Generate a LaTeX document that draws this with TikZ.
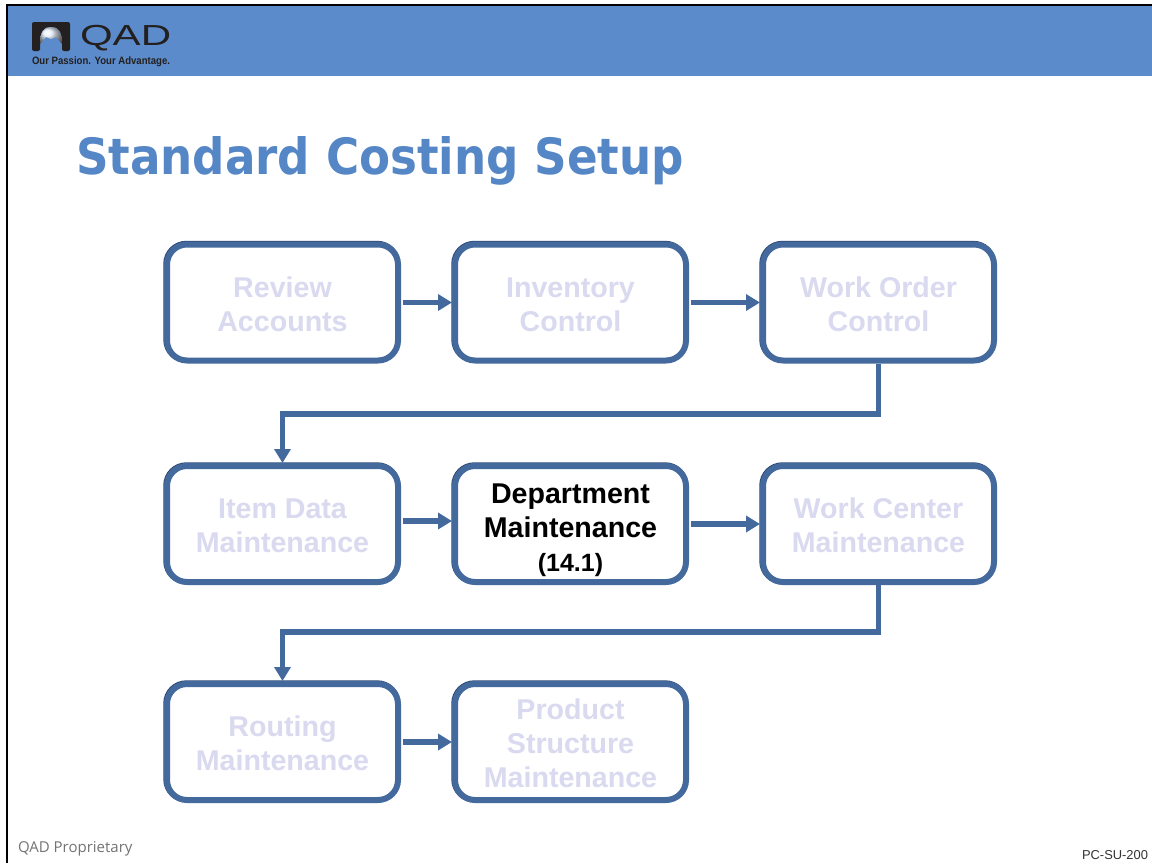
\documentclass[tikz,border=0pt]{standalone}
\usepackage{fontspec}
\setmainfont{Liberation Sans}
\newfontfamily\titlefont{DejaVu Sans}
\newfontfamily\footfont{Open Sans}
\definecolor{band}{HTML}{5B8BCB}
\definecolor{titleblue}{HTML}{5586C6}
\definecolor{flow}{HTML}{44699C}
\definecolor{flowdark}{HTML}{2F4A75}
\definecolor{faded}{HTML}{D9D9EF}
\definecolor{logoink}{HTML}{23201F}
\newcommand{\lineprop}{\rule[-2pt]{0pt}{27pt}}
\usetikzlibrary{arrows.meta,calc}
\tikzset{
  x=1pt,y=-1pt,
  stepbox/.style={draw=flow,line width=6pt,rounded corners=20pt,fill=white,minimum width=231pt,minimum height=116pt,inner sep=0pt,align=center,font=\fontsize{28.6}{34}\selectfont\bfseries,text=faded,
    preaction={draw=flowdark,line width=6pt,transform canvas={shift={(-0.7pt,0.7pt)}}}},
  active/.style={text=black},
  link/.style={draw=flow,line width=5.5pt,-{Triangle[length=14pt,width=16pt]}},
  corner/.style={inner sep=0pt,outer sep=0pt},
}
\begin{document}
\begin{tikzpicture}
\useasboundingbox (0,0) rectangle (1152,863);
\fill[white] (0,0) rectangle (1152,863);
\fill[band] (7,5) rectangle (1152,76);
\draw[black,line width=2pt] (7,863) -- (7,5) -- (1152,5);
% logo
\fill[logoink,rounded corners=2pt] (32,22) -- (70,22) -- (70,51) -- (62,51) -- (62,44) .. controls (62,32) and (58,27) .. (51,27) .. controls (44,27) and (40,32) .. (40,44) -- (40,51) -- (32,51) -- cycle;
\shade[ball color=white!85!band] (40,44) .. controls (40,32) and (44,27) .. (51,27) .. controls (58,27) and (62,32) .. (62,44) -- (56,37) -- (51,39) -- (46,37) -- cycle;
\node[corner,anchor=west,text=logoink] (logotext) at (80,38) {\scalebox{1.45}[1]{\fontsize{29}{30}\selectfont QAD}};
\node[corner,anchor=west,text=logoink] (tagline) at (32,62) {\scalebox{.895}[1]{\fontsize{10.7}{11}\selectfont\bfseries Our Passion. Your Advantage.}};
% title
\node[corner,anchor=west,text=titleblue] (title) at (76,161) {\scalebox{.904}[1]{\titlefont\fontsize{50}{52}\selectfont\bfseries Standard Costing Setup}};
% boxes
\node[stepbox] (review) at (282.5,302.5) {\lineprop Review\\\lineprop Accounts};
\node[stepbox] (inventory) at (570.5,302.5) {\lineprop Inventory\\\lineprop Control};
\node[stepbox] (workorder) at (878.5,302.5) {\lineprop Work Order\\\lineprop Control};
\node[stepbox] (itemdata) at (282.5,524) {\lineprop Item Data\\\lineprop Maintenance};
\node[stepbox,active] (department) at (570.5,524) {\rule{0pt}{33pt}Department\\Maintenance\\\lineprop{\fontsize{25}{26}\selectfont\bfseries (14.1)}};
\node[stepbox] (workcenter) at (878.5,524) {\lineprop Work Center\\\lineprop Maintenance};
\node[stepbox] (routing) at (282.5,742) {\lineprop Routing\\\lineprop Maintenance};
\node[stepbox] (product) at (570.5,742) {\lineprop Product\\Structure\\\lineprop Maintenance};
% connectors
\draw[link] (review.east) ++(2,0) -- (inventory.west);
\draw[link] (inventory.east) ++(2,0) -- (workorder.west);
\draw[link] (workorder.south) |- (282.5,414) -- (itemdata.north);
\draw[link] ($(itemdata.east)+(2,-3)$) -- ($(department.west)+(0,-3)$);
\draw[link] (department.east) ++(2,0) -- (workcenter.west);
\draw[link] (workcenter.south) |- (282.5,632) -- (routing.north);
\draw[link] (routing.east) ++(2,0) -- (product.west);
% footer
\node[corner,anchor=west,text=black!55] (prop) at (18,848.5) {\footfont\fontsize{15}{18}\selectfont QAD Proprietary};
\node[corner,anchor=east,text=black!80] (code) at (1148,855) {\fontsize{12.9}{14}\selectfont PC-SU-200};
\end{tikzpicture}
\end{document}
